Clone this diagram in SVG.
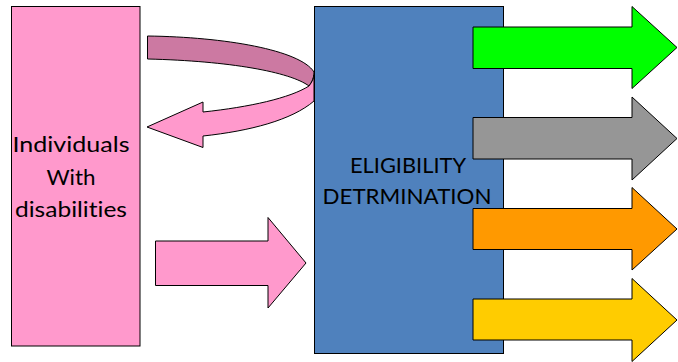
<svg xmlns="http://www.w3.org/2000/svg" width="678" height="362" viewBox="0 0 678 362">
<style>
.sh{stroke:#000;stroke-width:1;stroke-linejoin:miter}
.t{font-family:Lato,"Open Sans","Liberation Sans",sans-serif;font-size:22px;fill:#000;text-anchor:middle;font-variant-ligatures:none}
</style>
<rect width="678" height="362" fill="#fff"/>
<g id="individuals">
<rect class="sh" x="11.5" y="6.5" width="128.5" height="339.5" fill="#FF99CC"/>
<text class="t" x="71" y="151.5" textLength="117" lengthAdjust="spacingAndGlyphs">Individuals</text>
<text class="t" x="71" y="184.5" textLength="49" lengthAdjust="spacingAndGlyphs">With</text>
<text class="t" x="71" y="216.5" textLength="112" lengthAdjust="spacingAndGlyphs">disabilities</text>
</g>
<g id="eligibility">
<rect class="sh" x="314.5" y="6.5" width="189" height="347" fill="#4F81BD"/>
<text class="t" x="408" y="172.5" textLength="116" lengthAdjust="spacingAndGlyphs">ELIGIBILITY</text>
<text class="t" x="407" y="204" textLength="169" lengthAdjust="spacingAndGlyphs">DETRMINATION</text>
</g>
<g id="connectors">
<path class="sh" fill="#CC79A2" d="M147.5,36 C225,37 300,50 314,72 C314,78 312,82 309,86 C290,72 230,61 147.5,59 Z"/>
<path class="sh" fill="#FF99CC" d="M314,75 L314,101 C292,120 250,131 203,136 L203,147.5 L147,127 L203,102 L203,112 C250,107 290,98 309,86 C312,82 314,78 314,75 Z"/>
<path class="sh" fill="#FF99CC" d="M155.5,241 L268,241 L268,217.5 L306,263 L268,308 L268,285.5 L155.5,285.5 Z"/>
<path class="sh" fill="#00FF00" d="M473,27 L632,27 L632,6.5 L677,47.5 L632,88.5 L632,68.5 L473,68.5 Z"/>
<path class="sh" fill="#969696" d="M473,117.5 L632,117.5 L632,97 L677,138.5 L632,180 L632,159 L473,159 Z"/>
<path class="sh" fill="#FF9900" d="M473,208.5 L632,208.5 L632,187.5 L677,229 L632,270 L632,249.5 L473,249.5 Z"/>
<path class="sh" fill="#FFCC00" d="M473,299 L632,299 L632,278.5 L677,320 L632,361.5 L632,340 L473,340 Z"/>
</g>
</svg>
